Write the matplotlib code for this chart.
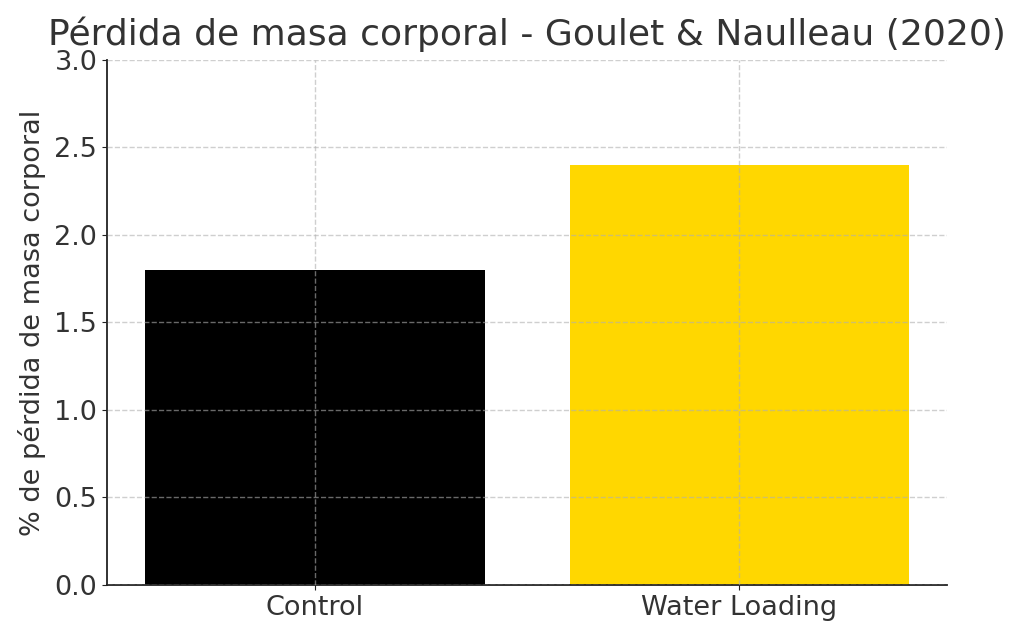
import matplotlib
matplotlib.use("Agg")
import matplotlib.pyplot as plt

categories = ["Control", "Water Loading"]
values = [1.8, 2.4]
colors = ["black", "gold"]
yticks = [0.0, 0.5, 1.0, 1.5, 2.0, 2.5, 3.0]

fig = plt.figure(figsize=(10.24, 6.37), dpi=100)
ax = fig.add_axes([0.1045, 0.0816, 0.8205, 0.8244])
ax.bar(categories, values, color=colors, width=0.8)
ax.set_ylim(0, 3.0)
ax.set_yticks(yticks)
ax.set_yticklabels([f"{t:.1f}" for t in yticks])
ax.grid(True, linestyle="--", color="#b0b0b0", alpha=0.6, linewidth=1)
ax.set_axisbelow(False)
for s in ["top", "right"]:
    ax.spines[s].set_visible(False)
for s in ["left", "bottom"]:
    ax.spines[s].set_color("#222222")
    ax.spines[s].set_linewidth(1.3)
ax.tick_params(axis="both", labelsize=19.5, colors="#222222", labelcolor="#333333")
ax.set_ylabel("% de pérdida de masa corporal", fontsize=19.5, color="#333333", labelpad=6)
ax.set_title("Pérdida de masa corporal - Goulet & Naulleau (2020)", fontsize=26, color="#333333", pad=11)
fig.savefig("out.png", dpi=100)
